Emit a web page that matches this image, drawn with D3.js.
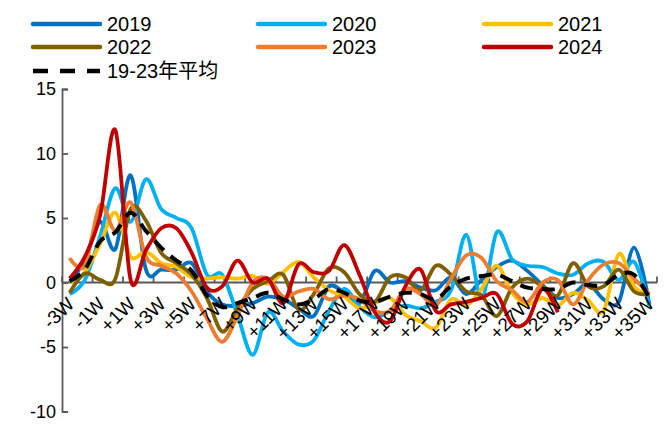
<!DOCTYPE html>
<html><head><meta charset="utf-8">
<script src="https://cdn.jsdelivr.net/npm/d3@7"></script>
<style>
html,body{margin:0;padding:0;background:#fff;}
svg{display:block;font-family:"Liberation Sans",Arial,"Noto Sans CJK SC",sans-serif;}
</style></head><body>
<svg id="chart" width="669" height="424"></svg>
<script>
const categories = ["-3W","-2W","-1W","0W","+1W","+2W","+3W","+4W","+5W","+6W","+7W","+8W","+9W","+10W","+11W","+12W","+13W","+14W","+15W","+16W","+17W","+18W","+19W","+20W","+21W","+22W","+23W","+24W","+25W","+26W","+27W","+28W","+29W","+30W","+31W","+32W","+33W","+34W","+35W"];
const yTicks = [15, 10, 5, 0, -5, -10];
const s2019 = [0.0,1.8,4.7,2.6,8.3,1.0,1.0,1.0,1.5,-0.7,-1.7,-1.8,-1.6,-1.1,-1.3,-2.0,-2.6,-0.3,-0.8,-1.6,0.9,0.0,0.1,-0.4,-0.6,0.4,-0.9,0.2,1.2,1.7,0.9,-0.2,-1.2,-0.9,-0.1,-1.3,-1.5,2.7,-1.7];
const s2020 = [-0.9,0.2,3.6,7.3,4.7,8.0,5.7,5.0,4.2,0.6,0.6,-2.5,-5.6,-2.3,-3.8,-4.8,-4.5,-2.2,-0.5,-1.9,-2.7,-2.2,-1.8,-2.0,-1.5,-0.6,3.7,-1.2,3.9,1.8,1.3,1.2,0.7,0.6,1.5,1.6,0.2,1.6,-1.8];
const s2021 = [0.0,0.8,3.0,5.4,2.0,2.4,1.5,1.2,0.4,0.3,0.4,0.3,0.5,-0.1,0.8,1.6,0.4,-0.6,-1.1,-2.0,-1.6,-1.2,-2.5,-3.0,-3.5,-1.3,-1.8,-0.5,1.3,-0.8,-1.7,-1.2,-1.8,-0.8,-1.4,-2.2,2.2,-0.3,-0.9];
const s2022 = [-0.8,0.7,0.2,0.3,5.7,4.8,2.3,1.5,0.6,-1.2,-3.8,-2.0,-0.5,0.1,0.6,-2.1,-0.9,1.1,0.8,-0.9,-1.5,0.4,0.4,-0.6,1.3,0.6,-0.7,-1.0,-2.6,-0.4,0.3,-0.3,-1.0,1.5,-0.3,-0.3,1.0,-0.7,-0.9];
const s2023 = [1.9,1.3,6.0,4.0,6.2,2.0,1.3,0.7,-0.7,-2.8,-4.6,-2.6,0.0,0.3,-1.1,-0.7,-0.5,-1.3,-1.0,-1.3,-2.2,-2.2,-0.5,-0.9,-1.8,0.3,2.1,1.9,0.1,-0.6,-1.5,0.0,0.2,-1.7,0.2,1.4,1.5,0.3,-0.9];
const s2024 = [0.3,2.0,5.2,11.8,0.2,2.5,4.2,4.2,2.3,-0.4,-0.3,1.7,0.0,0.3,-1.6,1.4,0.8,0.9,2.9,0.6,-2.3,-3.0,-0.3,1.0,-2.2,-1.7,-1.5,-1.2,-0.9,-3.2,-3.0,-0.5,-2.3];
const sAvg = [0.1,1.0,3.2,3.9,5.4,4.0,2.7,1.7,0.9,-1.0,-1.9,-1.6,-1.2,-0.8,-1.3,-1.7,-1.3,-0.5,-0.8,-1.4,-1.5,-1.1,-0.8,-0.9,-1.3,-0.3,0.3,0.5,0.6,0.1,-0.4,-0.5,-0.5,0.0,-0.2,-0.2,0.6,0.6,-1.2];
const seriesNames = ["2019","2020","2021","2022","2023","2024","19-23年平均"];
const seriesColors = ["#0070C0","#00B0F0","#FFC000","#7F6000","#ED7D31","#C00000","#000000"];
const seriesData = [s2019,s2020,s2021,s2022,s2023,s2024,sAvg];

const svg = d3.select("#chart");
const padL = 62, padR = 657, padT = 89, padB = 411.5;
const x = d3.scaleBand().domain(categories).range([padL, padR]).padding(0);
const y = d3.scaleLinear().domain([-10, 15]).range([padB, padT]);
const cx = c => x(c) + x.bandwidth() / 2;
const axisColor = "#595959";

// y axis
const gy = svg.append("g").attr("transform", `translate(${padL},0)`)
  .call(d3.axisRight(y).tickValues(yTicks).tickSize(6).tickFormat(""));
gy.select(".domain").attr("stroke", axisColor).attr("stroke-width", 1.8);
gy.selectAll(".tick line").attr("stroke", axisColor).attr("stroke-width", 1.8);
svg.append("g").selectAll("text").data(yTicks).join("text")
  .attr("x", 56).attr("y", d => y(d)).attr("dy", "0.35em")
  .attr("text-anchor", "end").attr("font-size", 18).attr("fill", "#000")
  .text(d => d);

// x axis at zero
const tickCats = categories.filter((c, i) => i % 2 === 0);
const gx = svg.append("g").attr("transform", `translate(0,${y(0)})`);
gx.append("line").attr("x1", padL).attr("x2", padR).attr("stroke", axisColor).attr("stroke-width", 1.8);
gx.selectAll("line.t").data(tickCats.concat(["_end"])).join("line").attr("class","t")
  .attr("x1", d => d === "_end" ? padR : x(d)).attr("x2", d => d === "_end" ? padR : x(d))
  .attr("y1", 0).attr("y2", -6).attr("stroke", axisColor).attr("stroke-width", 1.8);

// lines
const line = d3.line()
  .defined(d => d != null)
  .x((d, i) => cx(categories[i]))
  .y(d => y(d))
  .curve(d3.curveCatmullRom.alpha(0));
seriesData.forEach((arr, k) => {
  svg.append("path").datum(arr)
    .attr("fill", "none")
    .attr("stroke", seriesColors[k])
    .attr("stroke-width", k === 6 ? 4 : 3.8)
    .attr("stroke-dasharray", k === 6 ? "13,9" : null)
    .attr("stroke-linejoin", "round")
    .attr("d", line);
});

// x labels
svg.append("g").selectAll("text").data(tickCats).join("text")
  .attr("transform", d => `translate(${cx(d) + 1},${y(0) + 18}) rotate(-45)`)
  .attr("text-anchor", "end").attr("dy", "0.35em")
  .attr("font-size", 19).attr("fill", "#000")
  .text(d => d);

// legend
const legX = [33, 258, 484];
const legY = [24, 47, 71];
seriesNames.forEach((n, k) => {
  const col = k % 3, row = Math.floor(k / 3);
  const g = svg.append("g");
  g.append("line").attr("x1", legX[col]).attr("x2", legX[col] + 67)
    .attr("y1", legY[row]).attr("y2", legY[row])
    .attr("stroke", seriesColors[k]).attr("stroke-width", 4.5)
    .attr("stroke-linecap", k === 6 ? "butt" : "round")
    .attr("stroke-dasharray", k === 6 ? "15,12" : null);
  g.append("text").attr("x", legX[col] + 74).attr("y", legY[row]).attr("dy", "0.35em")
    .attr("font-size", 20).attr("fill", "#000").text(n);
});
</script>
</body></html>
